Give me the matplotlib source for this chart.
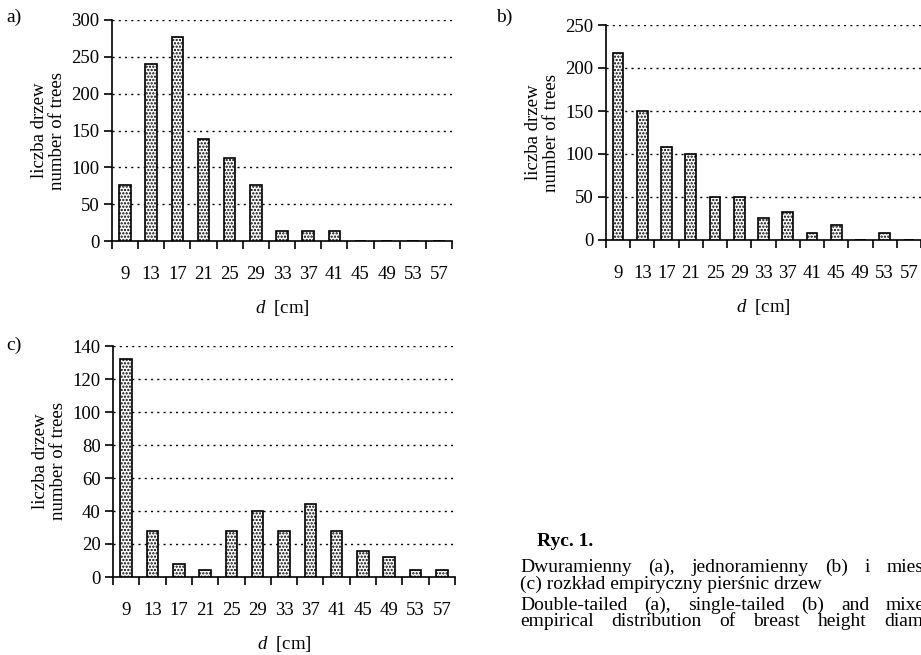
import matplotlib.pyplot as plt
import numpy as np

plt.rcParams["font.family"] = ["Liberation Serif", "DejaVu Serif"]
plt.rcParams["mathtext.fontset"] = "custom"
plt.rcParams["mathtext.it"] = "Liberation Serif:italic"
plt.rcParams["mathtext.rm"] = "Liberation Serif"
plt.rcParams["hatch.linewidth"] = 1.1

diameters = ["9", "13", "17", "21", "25", "29", "33", "37", "41", "45", "49", "53", "57"]
counts_a = [76, 240, 277, 139, 113, 76, 13, 13, 13, 0, 0, 0, 0]
counts_b = [218, 150, 108, 100, 50, 50, 25, 33, 8, 17, 0, 8, 0]
counts_c = [132, 28, 8, 4, 28, 40, 28, 44, 28, 16, 12, 4, 4]

caption_pl = ["Dwuramienny (a), jednoramienny (b) i mieszany",
              "(c) rozkład empiryczny pierśnic drzew"]
caption_en = ["Double-tailed (a), single-tailed (b) and mixed (c)",
              "empirical distribution of breast height diameters"]

W, H = 921, 655
fig = plt.figure(figsize=(W / 100, H / 100), dpi=100)


def px_axes(left, top, right, bottom):
    return fig.add_axes([left / W, 1 - bottom / H, (right - left) / W, (bottom - top) / H])


def draw_panel(ax, counts, ymax, step, letter, letter_xy):
    x = np.arange(len(diameters))
    ax.bar(x, counts, width=0.44, color="white", edgecolor="black",
           linewidth=1.2, hatch=".....", zorder=3)
    ax.set_xlim(-0.5, len(diameters) - 0.5)
    ax.set_ylim(0, ymax)
    yt = np.arange(0, ymax + 1, step)
    ax.set_yticks(yt)
    for v in yt[1:]:
        ax.axhline(v, color="black", linestyle=(0, (1.5, 3)), linewidth=1.0, zorder=1)
    ax.set_xticks(np.arange(len(diameters) + 1) - 0.5)
    ax.set_xticklabels([])
    ax.set_xticks(x, minor=True)
    ax.set_xticklabels(diameters, minor=True)
    ax.tick_params(axis="x", which="major", direction="out", length=6, width=1.2)
    ax.tick_params(axis="x", which="minor", length=0, pad=18, labelsize=13.5)
    ax.tick_params(axis="y", direction="out", length=6, width=1.2, labelsize=13.5, pad=3)
    for s in ("top", "right"):
        ax.spines[s].set_visible(False)
    for s in ("left", "bottom"):
        ax.spines[s].set_linewidth(1.2)
    ax.set_ylabel("liczba drzew\nnumber of trees", fontsize=13.5, labelpad=4, linespacing=1.1)
    ax.set_xlabel(r"$d$  [cm]", fontsize=13.5, labelpad=11)
    fig.text(letter_xy[0] / W, 1 - letter_xy[1] / H, letter, fontsize=14, ha="left", va="center")


ax_a = px_axes(112, 20, 452, 241)
draw_panel(ax_a, counts_a, 300, 50, "a)", (6, 17))

ax_b = px_axes(606, 25, 921, 240)
draw_panel(ax_b, counts_b, 250, 50, "b)", (496, 17))

ax_c = px_axes(113, 346, 455, 577)
draw_panel(ax_c, counts_c, 140, 20, "c)", (6, 345))

fig.text(537 / W, 1 - 542 / H, "Ryc. 1.", fontsize=14, fontweight="bold", ha="left", va="center")

# caption paragraphs are justified in the source: full lines get wider word gaps
cap_fs = 14
renderer = fig.canvas.get_renderer()


def caption_line(line, y_px, last_word_x=None):
    if last_word_x is None:
        fig.text(520 / W, 1 - y_px / H, line, fontsize=cap_fs, ha="left", va="center")
        return
    words = line.split()
    widths = []
    for w in words:
        t = fig.text(0, 0, w, fontsize=cap_fs)
        widths.append(t.get_window_extent(renderer).width)
        t.remove()
    gap = (last_word_x - 520 - sum(widths[:-1])) / (len(words) - 1)
    x = 520
    for w, wd in zip(words, widths):
        fig.text(x / W, 1 - y_px / H, w, fontsize=cap_fs, ha="left", va="center")
        x += wd + gap


caption_line(caption_pl[0], 567, last_word_x=887)
caption_line(caption_pl[1], 584)
caption_line(caption_en[0].rsplit(" ", 1)[0], 605, last_word_x=886)
caption_line(caption_en[1], 622, last_word_x=884)

fig.savefig("out.png", dpi=100)
